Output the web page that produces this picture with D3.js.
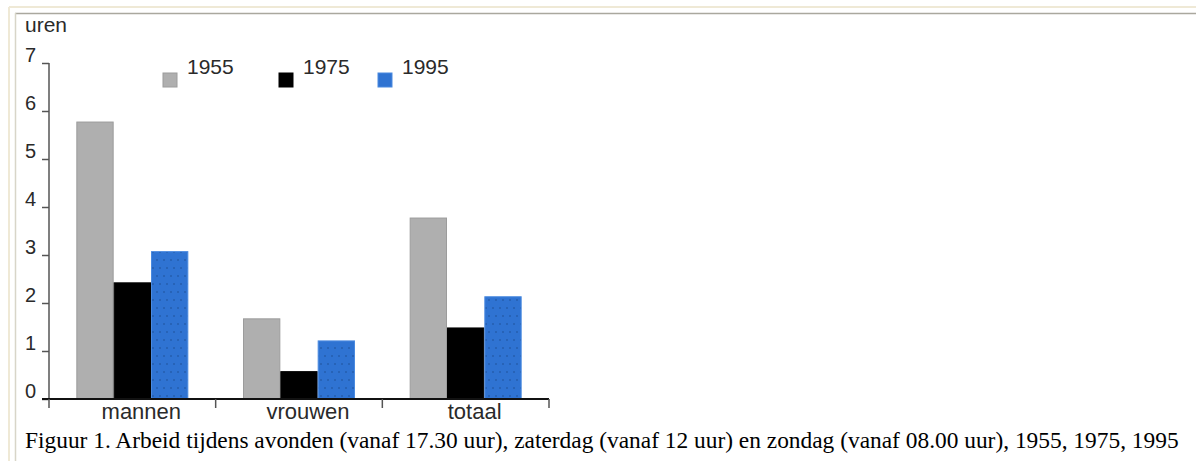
<!DOCTYPE html>
<html><head><meta charset="utf-8">
<script src="https://cdn.jsdelivr.net/npm/d3@7"></script>
<style>html,body{margin:0;padding:0;background:#fff;overflow:hidden}</style>
</head><body>
<script>
const categories = ["mannen", "vrouwen", "totaal"];
const years = ["1955", "1975", "1995"];
const values1955 = [5.77, 1.67, 3.77];
const values1975 = [2.42, 0.57, 1.48];
const values1995 = [3.07, 1.21, 2.13];
const yTicks = [0, 1, 2, 3, 4, 5, 6, 7];
const yLabel = "uren";
const caption = "Figuur 1. Arbeid tijdens avonden (vanaf 17.30 uur), zaterdag (vanaf 12 uur) en zondag (vanaf 08.00 uur), 1955, 1975, 1995";

const W = 1196, H = 461;
const svg = d3.select("body").append("svg").attr("width", W).attr("height", H);
const defs = svg.append("defs");
const pat = defs.append("pattern").attr("id", "dots").attr("patternUnits", "userSpaceOnUse")
  .attr("width", 14).attr("height", 16).attr("x", 0).attr("y", 0);
pat.append("rect").attr("width", 14).attr("height", 16).attr("fill", "#2f73d2");
[[3,4],[10,4],[6,12],[13,12]].forEach(p => pat.append("circle").attr("cx", p[0]).attr("cy", p[1]).attr("r", 0.8).attr("fill", "#1d4f96"));

// frame
svg.append("line").attr("x1", 9).attr("x2", W).attr("y1", 7).attr("y2", 7).attr("stroke", "#efe9d6").attr("stroke-width", 2);
svg.append("line").attr("x1", 9).attr("x2", 9).attr("y1", 7).attr("y2", H).attr("stroke", "#efe9d6").attr("stroke-width", 2);
svg.append("line").attr("x1", 15).attr("x2", W).attr("y1", 13.5).attr("y2", 13.5).attr("stroke", "#aaa89e").attr("stroke-width", 1.5);
svg.append("line").attr("x1", 15.5).attr("x2", 15.5).attr("y1", 13).attr("y2", H).attr("stroke", "#d8d5c8").attr("stroke-width", 1.5);

const x0 = d3.scaleBand().domain(categories).range([49, 549]).paddingInner(0.328).paddingOuter(0.164);
const x1 = d3.scaleBand().domain(years).range([0, x0.bandwidth()]);
const y = d3.scaleLinear().domain([0, 7]).range([399, 63]);

const series = { "1955": values1955, "1975": values1975, "1995": values1995 };
const fills = { "1955": "#afafaf", "1975": "#000000", "1995": "url(#dots)" };
const strokes = { "1955": "#9c9c9c", "1975": "#000", "1995": "#4a8ae0" };

const font = "'Liberation Sans', Arial, sans-serif";
const txt = "#2a2a2a";

// bars
categories.forEach((c, i) => {
  years.forEach(yr => {
    const v = series[yr][i];
    svg.append("rect")
      .attr("x", x0(c) + x1(yr) + 0.5)
      .attr("y", y(v))
      .attr("width", x1.bandwidth() - 1)
      .attr("height", y(0) - y(v))
      .attr("fill", fills[yr])
      .attr("stroke", strokes[yr]).attr("stroke-width", 1);
  });
});

// y axis
const yAxis = d3.axisLeft(y).tickValues(yTicks).tickSize(7).tickFormat(d3.format("d"));
const gy = svg.append("g").attr("transform", "translate(49,0)").call(yAxis);
gy.select(".domain").attr("stroke", "#555").attr("stroke-width", 1.5).attr("d", "M0," + y(7) + "V" + y(0));
gy.selectAll(".tick line").attr("stroke", "#555").attr("stroke-width", 1.5);
gy.selectAll(".tick text").attr("x", -13).attr("dy", "-0.1em").attr("text-anchor", "end")
  .attr("font-family", font).attr("font-size", 20).attr("fill", txt);

// x axis
const bounds = [0, 1, 2, 3].map(k => 49 + k * x0.step());
const gx = svg.append("g");
gx.append("line").attr("x1", 42).attr("x2", 549).attr("y1", y(0)).attr("y2", y(0)).attr("stroke", "#111").attr("stroke-width", 2);
bounds.forEach(b => gx.append("line").attr("x1", b).attr("x2", b).attr("y1", y(0)).attr("y2", y(0) + 9).attr("stroke", "#555").attr("stroke-width", 1.5));
categories.forEach(c => {
  gx.append("text").attr("x", x0(c) + x0.bandwidth() / 2 + 9).attr("y", 419)
    .attr("text-anchor", "middle").attr("font-family", font).attr("font-size", 22).attr("fill", txt).text(c);
});

// y label
svg.append("text").attr("x", 25).attr("y", 32).attr("font-family", font).attr("font-size", 21).attr("fill", txt).text(yLabel);

// legend
const legX = [163, 279, 378];
years.forEach((yr, i) => {
  svg.append("rect").attr("x", legX[i]).attr("y", 73).attr("width", 14).attr("height", 14)
    .attr("fill", i === 2 ? "#2f73d2" : fills[yr]).attr("stroke", strokes[yr]).attr("stroke-width", 1);
  svg.append("text").attr("x", legX[i] + 24).attr("y", 74).attr("font-family", font).attr("font-size", 21).attr("fill", txt).text(yr);
});

// caption
svg.append("text").attr("x", 25).attr("y", 448).attr("font-family", "'Liberation Serif', 'Times New Roman', serif")
  .attr("font-size", 23.4).attr("fill", "#000").text(caption);
</script>
</body></html>
